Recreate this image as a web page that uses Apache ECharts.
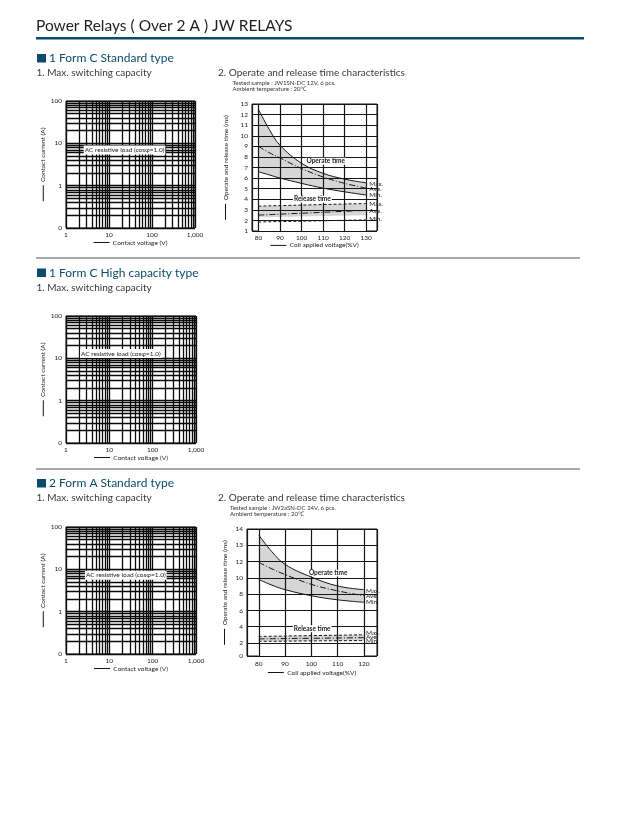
<!DOCTYPE html>
<html><head><meta charset="utf-8">
<script src="https://cdn.jsdelivr.net/npm/echarts@6/dist/echarts.min.js"></script>
<style>html,body{margin:0;padding:0;background:#fff;}#c{width:619px;height:828px;}</style>
</head><body><div id="c"></div>
<script>
const FONT = 'Lato, "Noto Sans", sans-serif';
const BLUE = '#0d4b6e';

// ---- texts ----
const pageTitle = 'Power Relays ( Over 2 A ) JW RELAYS';
const sectionTitles = ['1 Form C Standard type', '1 Form C High capacity type', '2 Form A Standard type'];
const capacityTitle = '1. Max. switching capacity';
const timeTitle = '2. Operate and release time characteristics';
const sampleA = ['Tested sample : JW1SN-DC 12V, 6 pcs.', 'Ambient temperature : 20℃'];
const sampleB = ['Tested sample : JW2aSN-DC 24V, 6 pcs.', 'Ambient temperature : 20℃'];
const loadLabel = 'AC resistive load (cosφ=1.0)';

// ---- log (max switching capacity) axes ----
const voltDecades = [1, 10, 100];      // V
const voltEnd = 1000;
const currDecades = [0.1, 1, 10];      // A
const currEnd = 100;
const mantissa = [1, 2, 3, 4, 5, 6, 7, 8, 9];

// ---- operate / release time : JW1SN-DC 12V ----
const pctA = [80, 85, 90, 100, 110, 120, 130];
const opMaxA = [12.5, 10.6, 9.1, 7.4, 6.45, 5.9, 5.55];
const opAveA = [9.0, 8.4, 7.9, 6.9, 6.1, 5.5, 5.05];
const opMinA = [6.6, 6.3, 6.0, 5.5, 5.05, 4.7, 4.4];
const relPctA = [80, 130];
const relMaxA = [3.35, 3.6];
const relAveA = [2.5, 2.95];
const relMinA = [1.85, 2.05];
const relLowA = [2.3, 2.5];
const xTicksA = [80, 90, 100, 110, 120, 130];
const yTicksA = [1, 2, 3, 4, 5, 6, 7, 8, 9, 10, 11, 12, 13];

// ---- operate / release time : JW2aSN-DC 24V ----
// printed scale: evenly spaced lines labelled 2,4,6,8,10,12,13,14 (values given in line units)
const pctB = [80, 85, 90, 100, 110, 120];
const opMaxB = [15.25, 13.2, 11.65, 10.1, 9.0, 8.55];
const opAveB = [11.9, 11.1, 10.4, 9.2, 8.4, 7.8];
const opMinB = [9.8, 9.1, 8.55, 7.8, 7.3, 7.0];
const relPctB = [80, 120];
const relMaxB = [2.8, 3.0];
const relAveB = [2.5, 2.65];
const relMinB = [2.2, 2.3];
const xTicksB = [80, 90, 100, 110, 120];
const yTickPosB = [0.4, 2, 4, 6, 8, 10, 12, 14, 16];
const yTickTextB = ['0', '2', '4', '6', '8', '10', '12', '13', '14'];

// ---------------------------------------------------------------
const zip = (xs, ys) => xs.map((x, i) => [x, ys[i]]);
const ink = '#151515';
const small = {fontFamily: FONT, fontSize: 6.5, color: '#222'};
const BAND = '#d6d6d6';

function logGridLines() {
  const xs = [], ys = [];
  voltDecades.forEach(d => mantissa.forEach(m => xs.push(d * m)));
  xs.push(voltEnd);
  currDecades.forEach(d => mantissa.forEach(m => ys.push(d * m)));
  ys.push(currEnd);
  return xs.map(v => ({xAxis: v})).concat(ys.map(v => ({yAxis: v})));
}
const nameRich = {l: {width: 16, height: 1, backgroundColor: ink}};

function logAxes(gi, xGap, yGap) {
  return {
    x: {
      gridIndex: gi, type: 'log', logBase: 10, min: voltDecades[0], max: voltEnd,
      axisLine: {show: false}, axisTick: {show: false}, splitLine: {show: false},
      axisLabel: Object.assign({margin: 3, formatter: v => v >= 1000 ? '1,000' : String(Math.round(v))}, small),
      name: '{l|}  Contact voltage (V)', nameLocation: 'middle', nameGap: xGap,
      nameTextStyle: Object.assign({rich: nameRich}, small)
    },
    y: {
      gridIndex: gi, type: 'log', logBase: 10, min: currDecades[0], max: currEnd,
      axisLine: {show: false}, axisTick: {show: false}, splitLine: {show: false},
      axisLabel: Object.assign({margin: 4, formatter: v => v < 0.5 ? '0' : String(Math.round(v))}, small),
      name: '{l|}  Contact current (A)', nameLocation: 'middle', nameGap: yGap, nameRotate: 90,
      nameTextStyle: Object.assign({rich: nameRich}, small)
    }
  };
}
function logSeries(ai, labelCoord) {
  return {
    type: 'line', xAxisIndex: ai, yAxisIndex: ai, data: [], silent: true, animation: false,
    markLine: {silent: true, animation: false, symbol: ['none', 'none'], label: {show: false},
      lineStyle: {color: '#0a0a0a', width: 1.3, type: 'solid'}, data: logGridLines()},
    markPoint: {silent: true, animation: false, data: [{coord: labelCoord, symbol: 'rect', symbolSize: 1,
      itemStyle: {color: 'rgba(0,0,0,0)'},
      label: Object.assign({show: true, position: 'inside', formatter: loadLabel, backgroundColor: '#fff', padding: [1, 1]}, small)}]}
  };
}
function curve(ai, xs, ys, type) {
  return {type: 'line', xAxisIndex: ai, yAxisIndex: ai, data: zip(xs, ys), smooth: 0.4, symbol: 'none',
    silent: true, animation: false, z: 5, lineStyle: {color: ink, width: 1, type: type || 'solid'}};
}
// opaque fill from a curve down to the bottom of the plot
function fill(ai, xs, ys, color) {
  return {type: 'line', xAxisIndex: ai, yAxisIndex: ai, data: zip(xs, ys), smooth: 0.4, symbol: 'none',
    silent: true, animation: false, z: 2, lineStyle: {width: 0, color: color},
    areaStyle: {color: color, opacity: 1, origin: 'start'}};
}
function gridLines(ai, xs, ys) {
  return {type: 'line', xAxisIndex: ai, yAxisIndex: ai, data: [], silent: true, animation: false, z: 3,
    markLine: {silent: true, animation: false, symbol: ['none', 'none'], label: {show: false},
      lineStyle: {color: ink, width: 1.2, type: 'solid'},
      data: xs.map(v => ({xAxis: v})).concat(ys.map(v => ({yAxis: v})))}};
}
function notes(ai, list) {
  return {type: 'line', xAxisIndex: ai, yAxisIndex: ai, data: [], silent: true, animation: false, z: 6,
    markPoint: {silent: true, animation: false, data: list.map(n => ({coord: [n[0], n[1]], symbol: 'rect', symbolSize: 1,
      itemStyle: {color: 'rgba(0,0,0,0)'},
      label: Object.assign({show: true, formatter: n[2], position: n[3] ? 'inside' : 'right', distance: 0,
        fontWeight: n[3] ? 'bold' : 'normal', backgroundColor: n[3] ? '#fff' : 'transparent', padding: n[3] ? [0, 1] : 0}, small)}))}};
}
const dashDot = [6, 2, 1, 2];
const dashed = [3, 2];
function timeY(gi, extra) {
  return Object.assign({
    gridIndex: gi, type: 'value', axisLine: {show: false}, axisTick: {show: false}, splitLine: {show: false},
    name: '{l|}  Operate and release time (ms)', nameLocation: 'middle', nameRotate: 90,
    nameTextStyle: Object.assign({rich: nameRich}, small)
  }, extra);
}
function timeX(gi, extra) {
  return Object.assign({
    gridIndex: gi, type: 'value', axisLine: {show: false}, splitLine: {show: false},
    name: '{l|}  Coil applied voltage(%V)', nameLocation: 'middle',
    nameTextStyle: Object.assign({rich: nameRich}, small)
  }, extra);
}

const L0 = logAxes(0, 11, 16), L2 = logAxes(2, 11, 16), L3 = logAxes(3, 11, 16);
const gridBox = {show: true, borderColor: ink, borderWidth: 1, backgroundColor: 'transparent'};
const xMinA = 77, xMaxA = 135, xMinB = 75.5, xMaxB = 125;

const option = {
  animation: false,
  textStyle: {fontFamily: FONT},
  grid: [
    Object.assign({left: 66, top: 101, width: 129, height: 127}, gridBox),
    Object.assign({left: 252, top: 104, width: 125, height: 127}, gridBox),
    Object.assign({left: 66, top: 316, width: 130, height: 127}, gridBox),
    Object.assign({left: 66, top: 527, width: 130, height: 127}, gridBox),
    Object.assign({left: 247, top: 529, width: 130, height: 127}, gridBox)
  ],
  xAxis: [
    L0.x,
    timeX(1, {min: xMinA, max: xMaxA, nameGap: 10,
      axisTick: {show: false, customValues: xTicksA},
      axisLabel: Object.assign({customValues: xTicksA, margin: 3}, small)}),
    L2.x, L3.x,
    timeX(4, {min: xMinB, max: xMaxB, nameGap: 13,
      axisTick: {show: false, customValues: xTicksB},
      axisLabel: Object.assign({customValues: xTicksB, margin: 4}, small)})
  ],
  yAxis: [
    L0.y,
    timeY(1, {min: 1, max: 13, interval: 1, nameGap: 23,
      axisLabel: Object.assign({margin: 4}, small)}),
    L2.y, L3.y,
    timeY(4, {min: 0.4, max: 16, nameGap: 19,
      axisTick: {show: false, customValues: yTickPosB},
      axisLabel: Object.assign({customValues: yTickPosB, margin: 4,
        formatter: v => yTickTextB[yTickPosB.indexOf(v)] || ''}, small)})
  ],
  series: [
    logSeries(0, [23, 7]),
    logSeries(2, [18.4, 13]),
    logSeries(3, [24, 7.2]),
    // chart A
    fill(1, pctA, opMaxA, BAND), fill(1, pctA, opMinA, '#fff'),
    fill(1, relPctA, relMaxA, BAND), fill(1, relPctA, relLowA, '#fff'),
    gridLines(1, [xMinA].concat(xTicksA, [xMaxA]), yTicksA),
    curve(1, pctA, opMaxA), curve(1, pctA, opAveA, dashDot), curve(1, pctA, opMinA),
    curve(1, relPctA, relMaxA, dashed), curve(1, relPctA, relAveA, dashDot), curve(1, relPctA, relMinA, dashed),
    notes(1, [[111.2, 7.6, 'Operate time', true], [105, 4.0, 'Release time', true],
      [131.2, 5.45, 'Max.'], [131.2, 4.95, 'Ave.'], [131.2, 4.41, 'Min.'],
      [131.2, 3.53, 'Max.'], [131.2, 2.9, 'Ave.'], [131.2, 2.17, 'Min.']]),
    // chart B
    fill(4, pctB, opMaxB, BAND), fill(4, pctB, opMinB, '#fff'),
    fill(4, relPctB, relMaxB, BAND), fill(4, relPctB, relMinB, '#fff'),
    gridLines(4, [xMinB].concat(xTicksB, [xMaxB]), yTickPosB),
    curve(4, pctB, opMaxB), curve(4, pctB, opAveB, dashDot), curve(4, pctB, opMinB),
    curve(4, relPctB, relMaxB, dashed), curve(4, relPctB, relAveB, dashDot), curve(4, relPctB, relMinB, dashed),
    notes(4, [[106.4, 10.6, 'Operate time', true], [100.3, 3.76, 'Release time', true],
      [120.6, 8.45, 'Max.'], [120.6, 7.75, 'Ave.'], [120.6, 7.07, 'Min.'],
      [120.6, 3.27, 'Max.'], [120.6, 2.78, 'Ave.'], [120.6, 2.2, 'Min.']])
  ],
  graphic: [
    {type: 'text', left: 36, top: 18, style: {text: pageTitle, font: '15.5px ' + FONT, fill: '#1e1e1e'}},
    {type: 'rect', shape: {x: 36, y: 37, width: 548, height: 2.5}, style: {fill: BLUE}},
    {type: 'line', shape: {x1: 36, y1: 258, x2: 580, y2: 258}, style: {stroke: '#555', lineWidth: 1}},
    {type: 'line', shape: {x1: 36, y1: 469, x2: 580, y2: 469}, style: {stroke: '#555', lineWidth: 1}},
    {type: 'rect', shape: {x: 37, y: 54, width: 9, height: 8.5}, style: {fill: BLUE}},
    {type: 'rect', shape: {x: 37, y: 268.5, width: 9, height: 8.5}, style: {fill: BLUE}},
    {type: 'rect', shape: {x: 37, y: 479, width: 9, height: 8.5}, style: {fill: BLUE}},
    {type: 'text', x: 49, y: 58.5, style: {text: sectionTitles[0], font: '12px ' + FONT, fill: BLUE, verticalAlign: 'middle'}},
    {type: 'text', x: 49, y: 273, style: {text: sectionTitles[1], font: '12px ' + FONT, fill: BLUE, verticalAlign: 'middle'}},
    {type: 'text', x: 49, y: 483.5, style: {text: sectionTitles[2], font: '12px ' + FONT, fill: BLUE, verticalAlign: 'middle'}},
    {type: 'text', x: 36.5, y: 73, style: {text: capacityTitle, font: '10px ' + FONT, fill: '#3a3a3a', verticalAlign: 'middle'}},
    {type: 'text', x: 36.5, y: 287.5, style: {text: capacityTitle, font: '10px ' + FONT, fill: '#3a3a3a', verticalAlign: 'middle'}},
    {type: 'text', x: 36.5, y: 498, style: {text: capacityTitle, font: '10px ' + FONT, fill: '#3a3a3a', verticalAlign: 'middle'}},
    {type: 'text', x: 218, y: 73, style: {text: timeTitle, font: '10px ' + FONT, fill: '#3a3a3a', verticalAlign: 'middle'}},
    {type: 'text', x: 218, y: 498, style: {text: timeTitle, font: '10px ' + FONT, fill: '#3a3a3a', verticalAlign: 'middle'}},
    {type: 'text', x: 232.5, y: 86, style: {text: sampleA.join('\n'), font: '6px ' + FONT, fill: '#333', verticalAlign: 'middle', lineHeight: 6}},
    {type: 'text', x: 230, y: 511, style: {text: sampleB.join('\n'), font: '6px ' + FONT, fill: '#333', verticalAlign: 'middle', lineHeight: 6}}
  ]
};
const chart = echarts.init(document.getElementById('c'), null, {renderer: 'canvas'});
chart.setOption(option);
</script></body></html>
